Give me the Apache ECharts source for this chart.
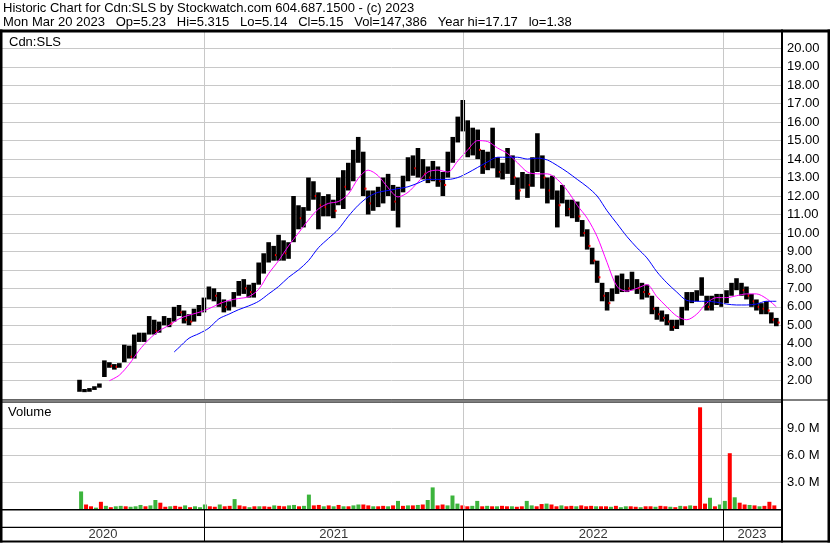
<!DOCTYPE html>
<html><head><meta charset="utf-8">
<script src="https://cdn.jsdelivr.net/npm/echarts/dist/echarts.min.js"></script>
<style>html,body{margin:0;padding:0;background:#fff}#c{width:830px;height:543px}</style>
</head><body><div id="c"></div>
<script>
// ---- data (weekly samples starting 2020-07-10) ----
const firstWeek = '2020-07-10';
const weekLow = [1.40,1.38,1.40,1.50,1.62,2.20,2.70,2.60,2.70,3.00,
3.20,3.20,4.10,4.10,4.50,4.50,4.60,5.00,4.90,5.20,
5.50,5.10,5.00,5.20,5.50,5.70,6.40,6.30,6.00,5.70,
5.80,6.00,6.60,6.70,6.50,6.50,7.20,7.80,8.40,8.50,
8.50,8.50,8.60,9.50,10.20,10.30,11.20,11.80,10.20,10.90,
10.90,10.80,11.50,11.30,12.30,12.80,13.80,12.00,11.00,11.20,
11.40,11.60,12.00,11.20,10.30,12.20,12.80,13.10,13.00,12.90,
12.70,12.80,12.50,12.00,13.00,13.80,14.90,15.50,14.10,14.20,
14.00,13.20,13.40,13.50,13.00,12.90,13.20,12.60,11.80,12.40,
11.90,12.50,13.30,12.40,11.60,11.80,10.30,11.60,10.90,10.80,
10.60,9.80,9.10,8.30,7.30,6.30,5.80,6.30,6.70,6.80,
6.80,6.90,6.70,6.40,6.50,5.60,5.30,5.20,5.00,4.70,
4.80,5.00,5.80,6.20,6.30,6.60,5.80,5.80,6.10,6.00,
6.20,6.60,6.90,6.60,6.40,6.00,5.80,5.60,5.60,5.10,4.95];
const weekHigh = [2.05,1.55,1.60,1.70,1.85,3.10,3.00,2.90,2.95,3.95,
3.90,4.50,4.60,4.60,5.50,5.30,5.20,5.50,5.40,6.00,
6.10,5.80,5.60,5.90,6.10,6.50,7.10,7.00,6.80,6.40,
6.30,6.80,7.40,7.50,7.20,7.30,8.40,8.90,9.50,9.30,
9.90,9.60,9.50,12.00,11.50,11.40,13.00,12.80,12.20,12.00,
12.10,11.80,13.00,13.40,13.80,14.50,15.20,14.40,12.30,12.30,
12.50,13.00,13.20,12.60,12.50,13.10,14.10,14.20,14.60,14.00,
13.60,13.90,13.60,13.30,14.40,15.20,16.30,17.20,16.10,15.70,
15.60,14.50,14.40,15.70,14.10,13.80,14.60,14.20,13.00,13.30,
13.20,14.10,15.40,14.20,13.00,13.10,12.30,12.60,11.80,11.80,
11.70,10.70,10.20,9.20,8.50,7.30,6.80,7.00,7.70,7.80,
7.50,7.90,7.50,7.30,7.20,6.60,6.00,5.80,5.60,5.30,
5.30,6.00,6.80,6.80,6.90,7.60,6.60,6.60,6.70,6.70,
6.90,7.30,7.55,7.30,7.10,6.70,6.40,6.20,6.30,5.70,5.40];
const weekClose = [1.45,1.45,1.50,1.62,1.78,2.90,2.80,2.75,2.85,3.80,
3.30,4.30,4.30,4.50,5.10,4.70,5.00,5.30,5.10,5.80,
5.70,5.30,5.20,5.70,5.90,6.30,6.80,6.60,6.20,6.00,
6.00,6.60,7.20,7.00,6.80,7.10,8.10,8.60,9.00,8.80,
9.50,8.90,9.30,11.30,10.80,11.00,12.60,12.00,11.50,11.40,
11.80,11.20,12.60,12.50,13.50,14.20,14.40,12.40,11.60,11.80,
12.10,12.30,12.70,11.70,12.10,12.80,13.60,13.50,13.80,13.20,
13.00,13.30,12.80,12.60,14.10,14.70,15.80,16.40,14.60,14.80,
14.50,13.60,13.90,14.20,13.30,13.40,14.20,13.00,12.30,12.80,
12.60,13.80,14.30,13.00,12.30,12.40,11.50,12.00,11.30,11.40,
10.90,10.00,9.30,8.50,7.60,6.60,6.20,6.60,7.20,7.40,
7.00,7.30,7.00,6.80,6.70,5.90,5.60,5.40,5.20,4.90,
5.10,5.80,6.50,6.50,6.60,7.20,6.00,6.30,6.40,6.30,
6.60,7.00,7.20,6.90,6.60,6.30,6.00,5.90,5.80,5.30,5.15];
// moving averages: [week index, value]
const pinkMA = [[6,2.0],[8,2.3],[10,2.9],[12,3.65],[14,4.25],[16,4.7],[18,5.0],[20,5.35],[22,5.55],[24,5.7],
[26,5.9],[28,6.15],[30,6.35],[32,6.45],[34,6.55],[36,6.95],[38,7.8],[40,8.5],[42,9.3],[44,10.0],
[46,10.7],[48,11.3],[50,11.6],[52,11.7],[54,12.1],[56,12.95],[58,13.4],[60,13.1],[62,12.45],[64,11.95],
[66,12.2],[68,12.75],[70,13.3],[72,13.4],[74,13.3],[76,13.9],[78,14.5],[80,15.0],[82,14.95],[84,14.6],
[86,14.3],[88,13.8],[90,13.3],[92,13.2],[94,13.2],[96,12.9],[98,12.3],[100,11.5],[102,10.8],[104,9.8],
[106,8.4],[108,7.1],[110,6.85],[112,7.0],[114,7.2],[116,6.55],[118,6.0],[120,5.5],[122,5.3],[124,5.6],
[126,6.2],[128,6.5],[130,6.5],[132,6.6],[134,6.7],[136,6.7],[138,6.45],[140,6.0]];
const blueMA = [[19,3.55],[20,3.8],[22,4.3],[24,4.55],[26,4.85],[28,5.35],[30,5.6],[32,5.85],[34,6.05],[36,6.3],
[38,6.7],[40,7.1],[42,7.6],[44,8.0],[46,8.5],[48,9.2],[50,9.7],[52,10.2],[54,10.9],[56,11.5],
[58,11.95],[60,12.2],[62,12.3],[64,12.4],[66,12.5],[68,12.7],[70,12.9],[72,12.9],[74,12.9],[76,13.0],
[78,13.25],[80,13.55],[82,13.85],[84,14.1],[86,14.1],[88,14.1],[90,14.0],[92,14.05],[94,13.95],[96,13.65],
[98,13.3],[100,12.9],[102,12.5],[104,12.0],[106,11.2],[108,10.5],[110,9.8],[112,9.2],[114,8.65],[116,7.9],
[118,7.3],[120,6.8],[122,6.35],[124,6.3],[126,6.3],[128,6.25],[130,6.15],[132,6.1],[134,6.1],[136,6.15],
[138,6.3],[140,6.3]];
// volume in millions, with bar colour (g = up, r = down)
const volume = [1.95,0.5,0.3,0.15,0.8,0.35,0.2,0.3,0.35,0.3,
0.25,0.3,0.45,0.3,0.4,1.0,0.7,0.25,0.3,0.35,
0.25,0.4,0.2,0.3,0.2,0.5,0.3,0.25,0.5,0.3,
0.35,1.1,0.4,0.3,0.2,0.3,0.3,0.3,0.25,0.4,
0.35,0.3,0.4,0.45,0.3,0.35,1.6,0.4,0.45,0.3,
0.4,0.3,0.45,0.3,0.3,0.4,0.5,0.5,0.4,0.3,
0.3,0.35,0.3,0.4,0.9,0.35,0.4,0.4,0.45,0.5,
1.0,2.4,0.4,0.5,0.4,1.5,0.6,0.4,0.3,0.35,
0.9,0.3,0.35,0.3,0.3,0.35,0.3,0.3,0.25,0.3,
0.9,0.4,0.3,0.55,0.6,0.5,0.3,0.4,0.3,0.35,
0.3,0.4,0.3,0.35,0.3,0.3,0.3,0.25,0.35,0.2,
0.3,0.3,0.25,0.2,0.3,0.3,0.25,0.35,0.3,0.25,
0.2,0.35,0.3,0.4,0.35,11.3,0.6,1.25,0.3,0.5,
0.9,6.2,1.3,0.7,0.5,0.45,0.4,0.3,0.35,0.8,0.4];
const volDir = 'grrgrgrggr' + 'gggrggrrgr' + 'rgrgggrrgr' + 'rgrrgrgrrg' + 'rrggrggrrg' +
               'rgrgrggrrg' + 'rrgrgrgrgr' + 'ggrrgggrrg' + 'grgrgrrgrr' + 'ggrrgrrgrr' +
               'grrrgrrgrg' + 'grrgrrgrrg' + 'rgrgrrrgrg' + 'grgrrgrgrrr';
const yearLabels = ['2020','2021','2022','2023'];
const yearStarts = ['2021-01-01','2022-01-01','2023-01-01'];
const axisStart = '2020-03-23T00:00:00Z';
const axisEnd = '2023-03-23T14:00:00Z';
const priceMin = 1, priceMax = 20.936, priceStep = 1;
const volMax = 11.89, volStep = 3;
const headerLine1 = 'Historic Chart for Cdn:SLS by Stockwatch.com 604.687.1500 - (c) 2023';
const headerLine2 = 'Mon Mar 20 2023   Op=5.23   Hi=5.315   Lo=5.14   Cl=5.15   Vol=147,386   Year hi=17.17   lo=1.38';

// ---- build ----
const DAY = 86400000;
const t0 = Date.parse(firstWeek + 'T00:00:00Z');
const wk = i => t0 + i * 7 * DAY;
const tMin = Date.parse(axisStart), tMax = Date.parse(axisEnd);
const yearT = yearStarts.map(s => Date.parse(s + 'T00:00:00Z'));
const bounds = [tMin].concat(yearT, [tMax]);
const yearMid = yearLabels.map((y, k) => ({ name: y, value: [(bounds[k] + bounds[k + 1]) / 2, 0.5] }));

const priceData = weekClose.map((c, i) => [wk(i), weekLow[i], weekHigh[i], c, (i > 0 && c < weekClose[i - 1]) ? 1 : 0]);
const volData = volume.map((v, i) => ({ value: [wk(i), v], itemStyle: { color: volDir[i] === 'g' ? '#3cb43c' : '#ff0000' } }));
const FONT = "'Liberation Sans', Arial, sans-serif";

const chart = echarts.init(document.getElementById('c'), null, { renderer: 'canvas' });
const txt = (fs) => ({ fontSize: fs, fontWeight: 'normal', color: '#000', fontFamily: FONT });
const gridL = 2, gridR = 49;
chart.setOption({
  animation: false,
  backgroundColor: '#fff',
  title: [
    { text: headerLine1, left: 3, top: 2, padding: 0, textStyle: txt(13) },
    { text: headerLine2, left: 3, top: 16, padding: 0, textStyle: txt(13) },
    { text: 'Cdn:SLS', left: 9, top: 36, padding: 0, textStyle: txt(13) },
    { text: 'Volume', left: 8, top: 406, padding: 0, textStyle: txt(13) }
  ],
  grid: [
    { left: gridL, right: gridR, top: 31, height: 368.17 },
    { left: gridL, right: gridR, top: 402, height: 107 },
    { left: gridL, right: gridR, top: 528, height: 13 }
  ],
  xAxis: [0, 1, 2].map(g => ({ type: 'time', gridIndex: g, min: tMin, max: tMax, show: false })),
  yAxis: [
    { type: 'value', gridIndex: 0, position: 'right', min: priceMin, max: priceMax, interval: priceStep,
      axisLine: { show: false }, axisTick: { show: false },
      splitLine: { show: true, lineStyle: { color: '#c8c8c8', width: 1 } },
      axisLabel: { margin: 6, formatter: v => v.toFixed(2), showMinLabel: false, showMaxLabel: false, fontSize: 13, color: '#000', fontFamily: FONT } },
    { type: 'value', gridIndex: 1, position: 'right', min: 0, max: volMax, interval: volStep,
      axisLine: { show: false }, axisTick: { show: false },
      splitLine: { show: true, lineStyle: { color: '#c8c8c8', width: 1 } },
      axisLabel: { margin: 6, formatter: v => v.toFixed(1) + ' M', showMinLabel: false, showMaxLabel: false, fontSize: 13, color: '#000', fontFamily: FONT } },
    { type: 'value', gridIndex: 2, min: 0, max: 1, show: false }
  ],
  series: [
    { type: 'custom', xAxisIndex: 0, yAxisIndex: 0, data: priceData, encode: { x: 0, y: [1, 2] }, z: 3,
      renderItem: function (params, api) {
        const x = api.value(0);
        const lo = api.coord([x, api.value(1)]);
        const hi = api.coord([x, api.value(2)]);
        const cl = api.coord([x, api.value(3)]);
        const w = 4.6;
        const ch = [{ type: 'rect', shape: { x: lo[0] - w / 2, y: hi[1], width: w, height: Math.max(1, lo[1] - hi[1]) }, style: { fill: '#000' } }];
        if (api.value(4)) ch.push({ type: 'rect', shape: { x: cl[0] + w / 2 - 1, y: cl[1] - 1, width: 2, height: 2 }, style: { fill: '#ff0000' } });
        return { type: 'group', children: ch };
      },
      markLine: { silent: true, symbol: 'none', label: { show: false }, lineStyle: { color: '#c8c8c8', width: 1, type: 'solid' },
        data: yearT.map(t => ({ xAxis: t })) }
    },
    { type: 'line', name: 'ma1', xAxisIndex: 0, yAxisIndex: 0, data: pinkMA.map(p => [wk(p[0]), p[1]]), smooth: 0.3,
      showSymbol: false, lineStyle: { color: '#ff00ff', width: 1 }, z: 4 },
    { type: 'line', name: 'ma2', xAxisIndex: 0, yAxisIndex: 0, data: blueMA.map(p => [wk(p[0]), p[1]]), smooth: 0.3,
      showSymbol: false, lineStyle: { color: '#0000ff', width: 1 }, z: 4 },
    { type: 'bar', xAxisIndex: 1, yAxisIndex: 1, data: volData, barWidth: 4,
      markLine: { silent: true, symbol: 'none', label: { show: false }, lineStyle: { color: '#c8c8c8', width: 1, type: 'solid' },
        data: yearT.map(t => ({ xAxis: t })) } },
    { type: 'scatter', xAxisIndex: 2, yAxisIndex: 2, data: yearMid, symbolSize: 0,
      label: { show: true, position: 'inside', formatter: p => p.name, fontSize: 13, color: '#000', fontFamily: FONT },
      markLine: { silent: true, symbol: 'none', label: { show: false }, lineStyle: { color: '#000', width: 1, type: 'solid' },
        data: yearT.map(t => [{ xAxis: t, y: 510 }, { xAxis: t, y: 541 }]) } }
  ],
  graphic: [
    { type: 'rect', z: 100, shape: { x: 0, y: 29.5, width: 830, height: 3 }, style: { fill: '#000' } },
    { type: 'rect', z: 100, shape: { x: 0, y: 29.5, width: 2.5, height: 513 }, style: { fill: '#000' } },
    { type: 'rect', z: 100, shape: { x: 781, y: 29.5, width: 2, height: 513 }, style: { fill: '#000' } },
    { type: 'rect', z: 100, shape: { x: 827.5, y: 29.5, width: 2.5, height: 513 }, style: { fill: '#000' } },
    { type: 'rect', z: 100, shape: { x: 0, y: 399.5, width: 830, height: 1 }, style: { fill: '#000' } },
    { type: 'rect', z: 100, shape: { x: 0, y: 401.5, width: 781, height: 1 }, style: { fill: '#000' } },
    { type: 'rect', z: 100, shape: { x: 0, y: 509, width: 781, height: 1.5 }, style: { fill: '#000' } },
    { type: 'rect', z: 100, shape: { x: 0, y: 526.8, width: 781, height: 1.3 }, style: { fill: '#000' } },
    { type: 'rect', z: 100, shape: { x: 0, y: 540.5, width: 830, height: 2 }, style: { fill: '#000' } }
  ]
});
</script></body></html>
